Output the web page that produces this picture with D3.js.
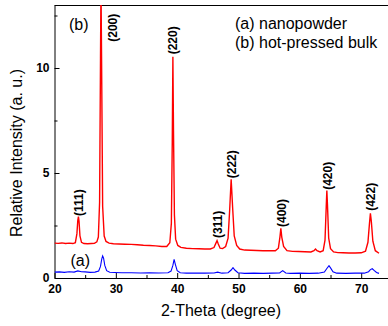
<!DOCTYPE html>
<html>
<head>
<meta charset="utf-8">
<script src="https://cdn.jsdelivr.net/npm/d3@7"></script>
<style>
  body { margin: 0; background: #fff; }
  svg { display: block; font-family: "Liberation Sans", Arial, sans-serif; }
</style>
</head>
<body>
<svg id="chart" width="388" height="326"></svg>
<script>
// (b) hot-pressed bulk
const bulkAngle = [20.0, 20.6, 21.2, 21.8, 22.4, 23.0, 23.4, 23.65, 23.8, 23.9, 24.0, 24.15, 24.4, 24.8,
  25.4, 26.0, 26.5, 26.9, 27.15, 27.35, 27.5, 27.58, 27.68, 27.85, 28.1, 28.4, 28.9, 29.6, 30.5, 31.5,
  32.5, 33.5, 34.5, 35.5, 36.5, 37.5, 38.3, 38.8, 39.05, 39.2, 39.3, 39.4, 39.55, 39.75, 40.1, 40.6,
  41.5, 42.5, 43.5, 44.5, 45.4, 46.0, 46.3, 46.5, 46.7, 47.0, 47.4, 47.9, 48.3, 48.55, 48.8, 49.05,
  49.3, 49.7, 50.2, 51.0, 52.0, 53.0, 54.0, 55.0, 56.0, 56.5, 56.75, 56.9, 57.05, 57.35, 57.9, 58.8,
  59.8, 60.8, 61.8, 62.3, 62.55, 62.8, 63.3, 63.8, 64.1, 64.3, 64.4, 64.5, 64.7, 65.0, 65.5, 66.2,
  67.0, 68.0, 69.0, 70.0, 70.7, 71.1, 71.35, 71.5, 71.65, 71.9, 72.3, 72.9];
const bulkIntensity = [1.66, 1.65, 1.67, 1.64, 1.66, 1.64, 1.68, 2.1, 2.75, 2.92, 2.7, 2.0, 1.7, 1.64,
  1.63, 1.64, 1.65, 1.72, 1.95, 3.6, 10.5, 14.0, 10.2, 3.4, 2.0, 1.74, 1.66, 1.63, 1.62, 1.61,
  1.6, 1.58, 1.56, 1.55, 1.53, 1.5, 1.5, 1.68, 2.6, 6.5, 10.54, 7.0, 3.0, 1.85, 1.55, 1.46,
  1.42, 1.4, 1.39, 1.38, 1.38, 1.45, 1.65, 1.78, 1.62, 1.42, 1.4, 1.5, 1.9, 3.2, 4.7, 3.3,
  2.0, 1.55, 1.38, 1.33, 1.32, 1.31, 1.3, 1.3, 1.3, 1.42, 1.95, 2.37, 1.95, 1.5, 1.3, 1.27,
  1.26, 1.25, 1.24, 1.3, 1.38, 1.3, 1.24, 1.3, 1.8, 3.4, 4.16, 3.5, 1.9, 1.4, 1.24, 1.21,
  1.2, 1.19, 1.19, 1.2, 1.28, 1.7, 2.6, 3.08, 2.7, 1.75, 1.3, 1.18];

// (a) nanopowder
const powderAngle = [20.0, 20.8, 21.6, 22.4, 23.2, 23.8, 24.4, 25.0, 25.8, 26.6, 27.2, 27.5, 27.7, 27.85,
  28.0, 28.2, 28.5, 29.0, 29.8, 31.0, 32.5, 34.0, 35.5, 37.0, 38.5, 39.0, 39.3, 39.5, 39.7, 40.0,
  40.5, 41.5, 43.0, 44.5, 46.0, 46.6, 47.3, 48.3, 48.8, 49.1, 49.4, 49.9, 51.0, 52.5, 54.0, 55.5,
  56.7, 57.2, 57.7, 58.5, 60.0, 61.5, 63.0, 64.0, 64.4, 64.75, 65.0, 65.4, 66.0, 67.5, 69.0, 70.5,
  71.2, 71.5, 71.8, 72.1, 72.5, 72.9];
const powderIntensity = [0.28, 0.29, 0.27, 0.3, 0.28, 0.34, 0.3, 0.29, 0.27, 0.28, 0.33, 0.55, 0.9, 1.05,
  0.95, 0.6, 0.35, 0.27, 0.26, 0.25, 0.25, 0.24, 0.25, 0.24, 0.25, 0.33, 0.6, 0.89, 0.65, 0.35,
  0.25, 0.23, 0.24, 0.23, 0.24, 0.28, 0.23, 0.25, 0.38, 0.49, 0.38, 0.25, 0.22, 0.23, 0.22, 0.23,
  0.24, 0.35, 0.24, 0.22, 0.23, 0.22, 0.23, 0.28, 0.45, 0.59, 0.48, 0.3, 0.23, 0.22, 0.23, 0.23,
  0.3, 0.4, 0.44, 0.36, 0.26, 0.22];

// reflection labels (hkl), placed at their peaks
const peakNames = ["(111)", "(200)", "(220)", "(311)", "(222)", "(400)", "(420)", "(422)"];
const peakLabelAngle = [23.9, 29.5, 39.3, 46.6, 48.9, 57.0, 64.5, 71.6];
const peakLabelIntensity = [2.95, 11.25, 10.65, 1.9, 4.75, 2.43, 4.2, 3.2];

const xMajor = [20, 30, 40, 50, 60, 70];
const xMinor = [25, 35, 45, 55, 65, 75];
const yMajor = [0, 5, 10];
const yMinor = [2.5, 7.5, 12.5];

const svg = d3.select("#chart");
const plotLeft = 54.5, plotTop = 5, plotBottom = 278;

const x = d3.scaleLinear().domain([20, 75]).range([plotLeft, plotLeft + 55 * 6.134]);
const y = d3.scaleLinear().domain([0, 13]).range([plotBottom, plotTop]);

svg.append("defs").append("clipPath").attr("id", "plot")
  .append("rect").attr("x", plotLeft).attr("y", plotTop)
  .attr("width", 388 - plotLeft).attr("height", plotBottom - plotTop);

// axes, ticks pointing inward
svg.append("g").attr("transform", `translate(0,${plotBottom})`)
  .call(d3.axisBottom(x).tickValues(xMajor).tickSizeInner(-5).tickSizeOuter(0).tickPadding(6));
svg.append("g").attr("transform", `translate(0,${plotBottom})`)
  .call(d3.axisBottom(x).tickValues(xMinor).tickSize(-3).tickFormat(""))
  .select(".domain").remove();

svg.append("g").attr("transform", `translate(${plotLeft},0)`)
  .call(d3.axisLeft(y).tickValues(yMajor).tickSizeInner(-5).tickSizeOuter(0).tickPadding(5));
svg.append("g").attr("transform", `translate(${plotLeft},0)`)
  .call(d3.axisLeft(y).tickValues(yMinor).tickSize(-3).tickFormat(""))
  .select(".domain").remove();

svg.selectAll(".tick text").attr("font-size", 12).attr("font-weight", "bold")
  .attr("font-family", "'Liberation Sans', Arial, sans-serif").attr("fill", "#000");
svg.selectAll(".domain, .tick line").attr("stroke", "#000");

svg.append("line").attr("x1", plotLeft).attr("x2", 388).attr("y1", plotTop + 0.5).attr("y2", plotTop + 0.5)
  .attr("stroke", "#000");

// patterns
const line = d3.line().x(d => x(d[0])).y(d => y(d[1]));
const plot = svg.append("g").attr("clip-path", "url(#plot)");

plot.append("path")
  .datum(powderAngle.map((a, i) => [a, powderIntensity[i]]))
  .attr("d", line).attr("fill", "none").attr("stroke", "#0000ff").attr("stroke-width", 1.1);

plot.append("path")
  .datum(bulkAngle.map((a, i) => [a, bulkIntensity[i]]))
  .attr("d", line).attr("fill", "none").attr("stroke", "#ff0000").attr("stroke-width", 1.4);

// hkl labels
svg.selectAll(".hkl").data(peakNames).enter().append("text")
  .attr("class", "hkl")
  .attr("transform", (d, i) => `translate(${x(peakLabelAngle[i])},${y(peakLabelIntensity[i])}) rotate(-90)`)
  .attr("dy", "0.35em")
  .attr("font-size", 12).attr("font-weight", "bold")
  .text(d => d);

// annotations
svg.append("text").attr("x", 69).attr("y", 30).attr("font-size", 16).text("(b)");
svg.append("text").attr("x", 70.5).attr("y", 266).attr("font-size", 16).text("(a)");
svg.append("text").attr("x", 235).attr("y", 29).attr("font-size", 16).text("(a) nanopowder");
svg.append("text").attr("x", 235).attr("y", 48).attr("font-size", 16).text("(b) hot-pressed bulk");

// axis titles
svg.append("text").attr("x", 221).attr("y", 316).attr("text-anchor", "middle")
  .attr("font-size", 16).text("2-Theta (degree)");
svg.append("text").attr("transform", "translate(22,153) rotate(-90)").attr("text-anchor", "middle")
  .attr("font-size", 16).text("Relative Intensity (a. u.)");
</script>
</body>
</html>
